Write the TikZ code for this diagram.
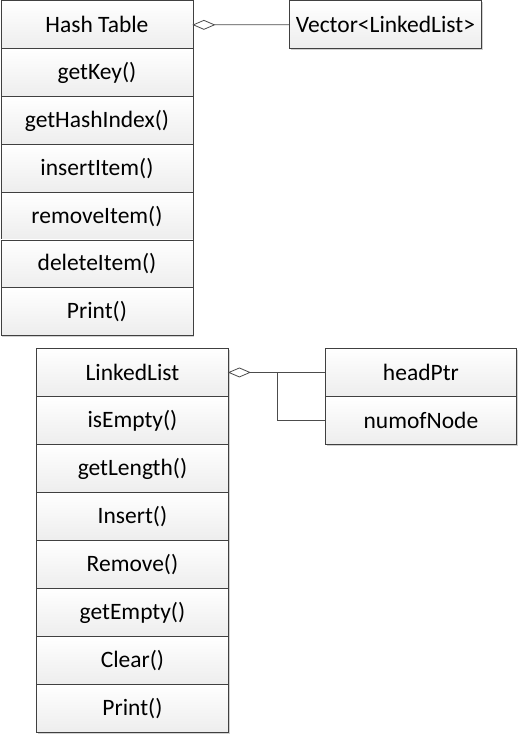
\documentclass[tikz,border=0pt]{standalone}
\usepackage{fontspec}
\setmainfont{Carlito}
\usetikzlibrary{shadows}
\begin{document}
\begin{tikzpicture}[x=1pt,y=-1pt,
  umlbox/.style={draw=black!75, line width=0.9pt, top color=white, bottom color=black!7,
    anchor=north west, inner sep=0pt, font=\fontsize{23.5}{28}\selectfont,
    drop shadow={shadow xshift=1.2pt, shadow yshift=-1.2pt, opacity=0.3, fill=black!60}},
  conn/.style={draw=black!70, line width=0.8pt},
  agg/.style={draw=black!70, line width=0.8pt, fill=white}]
\useasboundingbox (0,0) rectangle (519,735);
% Hash table
\foreach \n/\t [count=\i from 0] in {ht/Hash Table,hk/getKey(),hh/getHashIndex(),hi/insertItem(),hr/removeItem(),hd/deleteItem(),hp/Print()}{
  \node[umlbox, minimum width=192pt, minimum height=47.8pt] (\n) at (0.5,{0.5+47.8*\i}) {\t};
}
\node[umlbox, minimum width=192pt, minimum height=47.5pt] (vec) at (289,0.5) {Vector<LinkedList>};
% LinkedList
\foreach \n/\t [count=\i from 0] in {ll/LinkedList,le/isEmpty(),lg/getLength(),lin/Insert(),lr/Remove(),lge/getEmpty(),lc/Clear(),lp/Print()}{
  \node[umlbox, minimum width=192pt, minimum height=48pt] (\n) at (36,{348+48*\i}) {\t};
}
\node[umlbox, minimum width=191pt, minimum height=48pt] (hp2) at (325,348) {headPtr};
\node[umlbox, minimum width=191pt, minimum height=48pt] (nn) at (325,396) {numofNode};
% connectors
\coordinate (d1) at (ht.east);
\draw[agg] (d1) -- ++(10.5,-4.5) -- ++(10.5,4.5) -- ++(-10.5,4.5) -- cycle;
\draw[conn] ([xshift=21pt]d1) -- (vec.west);
\coordinate (d2) at (ll.east);
\draw[agg] (d2) -- ++(10.5,-4.5) -- ++(10.5,4.5) -- ++(-10.5,4.5) -- cycle;
\draw[conn] ([xshift=21pt]d2) -- (hp2.west);
\coordinate (br) at (277,372);
\draw[conn] (br) |- (nn.west);
\end{tikzpicture}
\end{document}
